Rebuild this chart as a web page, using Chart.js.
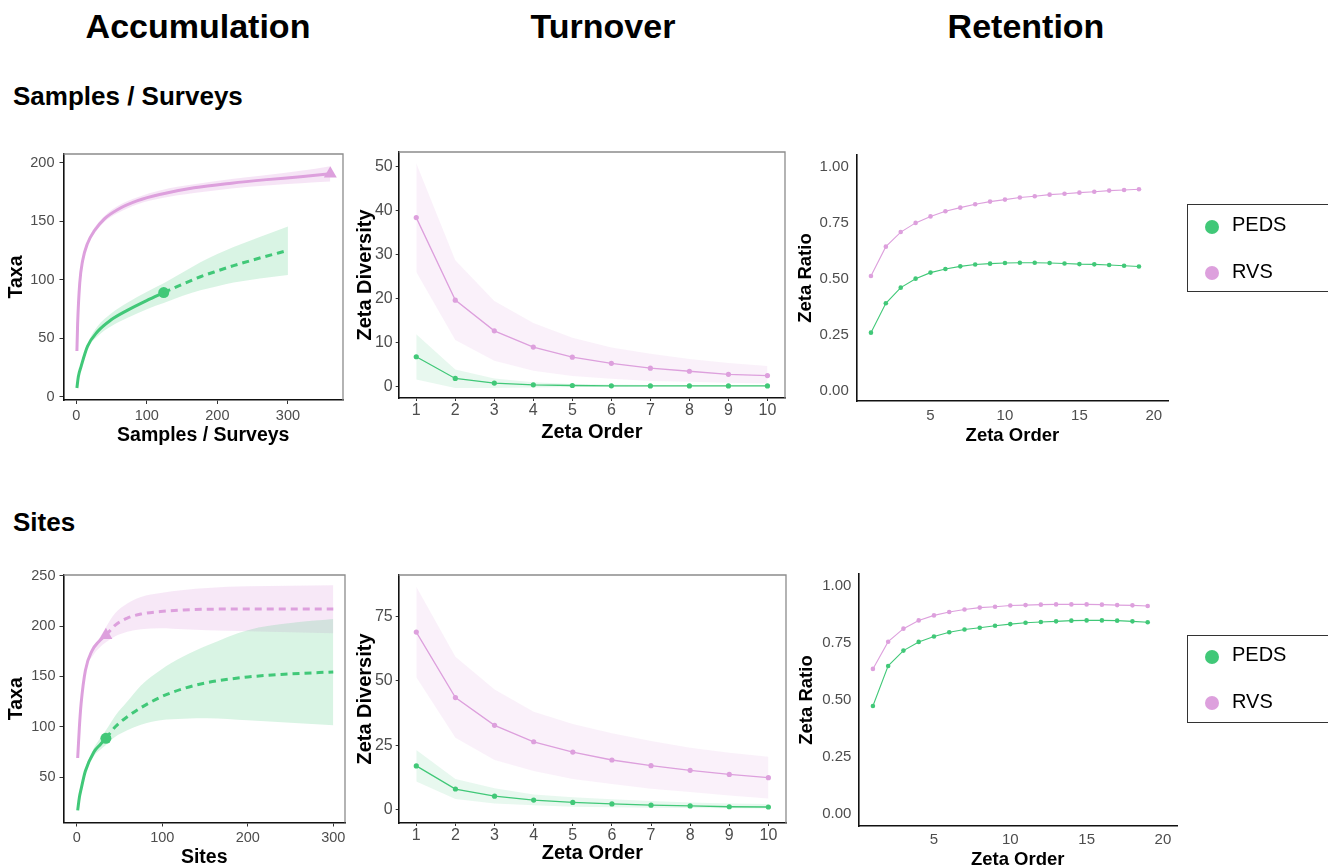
<!DOCTYPE html>
<html>
<head>
<meta charset="utf-8">
<script src="https://cdn.jsdelivr.net/npm/chart.js@4.4.1/dist/chart.umd.min.js"></script>
<style>
  body { margin: 0; background: #fff; width: 1328px; height: 868px; position: relative; overflow: hidden;
         font-family: "Liberation Sans", Arial, Helvetica, sans-serif; }
  .t { position: absolute; font-weight: bold; line-height: 1; white-space: nowrap; color: #000; }
  .c { transform: translateX(-50%); }
  canvas { position: absolute; }
  .lg { position: absolute; box-sizing: border-box; border: 1.5px solid #333; width: 170px; }
  .dot { position: absolute; width: 14px; height: 14px; border-radius: 50%; }
  .lt { position: absolute; font-size: 20px; line-height: 1; color: #000; }
</style>
</head>
<body>
<div class="t c" style="left:198px;top:9px;font-size:34px">Accumulation</div>
<div class="t c" style="left:603px;top:9px;font-size:34px">Turnover</div>
<div class="t c" style="left:1026px;top:9px;font-size:34px">Retention</div>
<div class="t" style="left:13px;top:83px;font-size:26px">Samples / Surveys</div>
<div class="t" style="left:13px;top:509px;font-size:26px">Sites</div>

<canvas id="accSamp"></canvas>
<canvas id="turnSamp"></canvas>
<canvas id="retSamp"></canvas>
<canvas id="accSite"></canvas>
<canvas id="turnSite"></canvas>
<canvas id="retSite"></canvas>

<div class="lg" style="left:1187px;top:204px;height:88px"></div>
<div class="dot" style="left:1205px;top:220px;background:#41c878"></div>
<div class="lt" style="left:1232px;top:214px">PEDS</div>
<div class="dot" style="left:1205px;top:266px;background:#dda0dd"></div>
<div class="lt" style="left:1232px;top:261px">RVS</div>

<div class="lg" style="left:1187px;top:635px;height:88px"></div>
<div class="dot" style="left:1205px;top:650px;background:#41c878"></div>
<div class="lt" style="left:1232px;top:644px">PEDS</div>
<div class="dot" style="left:1205px;top:696px;background:#dda0dd"></div>
<div class="lt" style="left:1232px;top:691px">RVS</div>

<script>
const GREEN = '#41c878';
const PINK = '#dda0dd';
const FONT = '"Liberation Sans", Arial, Helvetica, sans-serif';

// ---- Accumulation: samples / surveys ----
const sampPedsObsX = [1, 3, 7, 16, 30, 49, 73, 101, 124];
const sampPedsObsY = [7.5, 17, 26, 43, 55.5, 65.5, 74, 82.5, 89];
const sampPedsExtX = [124, 150, 176, 200, 223, 260, 300];
const sampPedsExtY = [89, 96, 102.5, 107.5, 112, 118.5, 125];
const sampPedsBandX = [1, 3, 7, 16, 30, 49, 73, 101, 124, 150, 176, 200, 223, 260, 300];
const sampPedsBandHi = [7.5, 17.5, 27, 45, 60, 71, 80.5, 90, 97, 106, 115, 122, 128, 136.5, 145.5];
const sampPedsBandLo = [7.5, 16.5, 25, 41, 51.5, 60, 67.5, 75, 80, 86, 91, 94.5, 97.5, 101, 104];
const sampRvsObsX = [1, 2, 5, 9, 16, 26, 40, 59, 87, 120, 167, 220, 270, 318, 360];
const sampRvsObsY = [39, 62, 97, 116, 131, 142, 152, 160, 167.5, 173, 178.5, 182.5, 185.5, 188, 190.5];
const sampRvsBandHi = [39, 63, 99, 118, 133, 144.5, 154.5, 163, 170.5, 176.5, 181.5, 186, 189.5, 193, 197];
const sampRvsBandLo = [39, 61, 95, 114, 129, 139.5, 149.5, 157, 164.5, 169.5, 174, 178, 180.5, 182.5, 184];

// ---- Accumulation: sites ----
const sitePedsObsX = [1, 3, 5, 10, 20, 27, 34];
const sitePedsObsY = [17, 30, 38, 56, 75, 82, 88.5];
const sitePedsExtX = [34, 45, 59, 75, 98, 125, 153, 200, 250, 300];
const sitePedsExtY = [88.5, 100, 110, 119, 129.5, 138, 144, 149.5, 152.5, 154.5];
const siteBandX = [1, 3, 5, 10, 20, 27, 34, 45, 59, 75, 98, 125, 153, 200, 250, 300];
const sitePedsBandHi = [17, 30.5, 39, 58, 79, 88, 96.5, 111, 125, 141, 156.5, 170, 181, 196, 203, 207];
const sitePedsBandLo = [17, 29.5, 37, 54, 71, 77, 82, 90, 96.5, 102, 106.5, 108, 108.5, 106.5, 104, 101.5];
const siteRvsObsX = [1, 3, 5, 10, 18, 25, 34];
const siteRvsObsY = [69, 100, 123, 156, 176, 184, 191];
const siteRvsExtX = [34, 45, 59, 75, 98, 125, 153, 200, 250, 300];
const siteRvsExtY = [191, 201, 208, 212, 214.5, 216, 216.8, 217, 217, 217];
const siteRvsBandHi = [69, 100.5, 124, 158, 180, 189, 199, 213, 222.5, 229, 233, 236, 238, 239.5, 240, 240.5];
const siteRvsBandLo = [69, 99.5, 122, 154, 172, 179, 184, 190, 194.5, 197, 198, 197, 196, 195, 194, 193];

// ---- Turnover ----
const zetaOrders = [1, 2, 3, 4, 5, 6, 7, 8, 9, 10];
const sampTurnPeds = [6.7, 1.75, 0.7, 0.3, 0.15, 0.08, 0.05, 0.05, 0.05, 0.05];
const sampTurnPedsHi = [11.8, 3.8, 1.75, 0.9, 0.5, 0.35, 0.25, 0.2, 0.2, 0.2];
const sampTurnPedsLo = [1.5, -0.45, -0.4, -0.3, -0.2, -0.15, -0.1, -0.1, -0.1, -0.1];
const sampTurnRvs = [38.4, 19.6, 12.6, 8.9, 6.6, 5.2, 4.1, 3.4, 2.7, 2.4];
const sampTurnRvsHi = [50.8, 28.7, 19.4, 14.4, 11.0, 8.8, 7.4, 6.2, 5.3, 4.6];
const sampTurnRvsLo = [26.0, 10.5, 5.8, 3.5, 2.3, 1.7, 1.2, 1.0, 0.8, 0.6];
const siteTurnPeds = [16.9, 7.9, 5.1, 3.6, 2.7, 2.1, 1.6, 1.3, 1.0, 0.9];
const siteTurnPedsHi = [23.1, 11.8, 8.2, 5.8, 4.7, 3.9, 3.2, 2.7, 2.3, 2.1];
const siteTurnPedsLo = [10.8, 4.0, 2.3, 1.6, 1.0, 0.8, 0.6, 0.5, 0.4, 0.3];
const siteTurnRvs = [69.0, 43.5, 32.7, 26.3, 22.3, 19.2, 17.0, 15.2, 13.6, 12.3];
const siteTurnRvsHi = [86.7, 59.4, 46.7, 38.0, 33.2, 29.6, 26.6, 24.0, 22.0, 20.5];
const siteTurnRvsLo = [51.4, 27.9, 19.2, 14.9, 11.8, 9.9, 8.0, 6.7, 5.4, 4.2];

// ---- Retention ----
const ratioOrders = [1, 2, 3, 4, 5, 6, 7, 8, 9, 10, 11, 12, 13, 14, 15, 16, 17, 18, 19];
const sampRatioPeds = [0.259, 0.390, 0.460, 0.500, 0.527, 0.543, 0.555, 0.563, 0.567, 0.570, 0.571, 0.571, 0.570, 0.568, 0.565, 0.564, 0.561, 0.558, 0.554];
const sampRatioRvs = [0.512, 0.643, 0.708, 0.749, 0.778, 0.801, 0.817, 0.832, 0.844, 0.853, 0.862, 0.868, 0.875, 0.879, 0.884, 0.888, 0.893, 0.896, 0.899];
const siteRatioPeds = [0.474, 0.649, 0.716, 0.754, 0.778, 0.796, 0.808, 0.816, 0.825, 0.832, 0.838, 0.841, 0.844, 0.847, 0.848, 0.848, 0.847, 0.844, 0.840];
const siteRatioRvs = [0.636, 0.755, 0.812, 0.848, 0.870, 0.885, 0.896, 0.904, 0.908, 0.913, 0.915, 0.917, 0.918, 0.918, 0.918, 0.917, 0.915, 0.914, 0.911];

// ---- Tick labels ----
const sampAccXTicks = [0, 100, 200, 300];
const sampAccYTicks = [0, 50, 100, 150, 200];
const siteAccXTicks = [0, 100, 200, 300];
const siteAccYTicks = [50, 100, 150, 200, 250];
const turnXTicks = [1, 2, 3, 4, 5, 6, 7, 8, 9, 10];
const sampTurnYTicks = [0, 10, 20, 30, 40, 50];
const siteTurnYTicks = [0, 25, 50, 75];
const ratioXTicks = [5, 10, 15, 20];
const ratioYTicks = [0, 0.25, 0.5, 0.75, 1];

const pts = (xs, ys) => xs.map((x, i) => ({ x: x, y: ys[i] }));

// grey top/right frame like the ggplot panel border
const boxPlugin = {
  id: 'box',
  afterDraw(chart) {
    const a = chart.chartArea, ctx = chart.ctx;
    ctx.save();
    ctx.strokeStyle = '#8c8c8c';
    ctx.lineWidth = 1.3;
    ctx.beginPath();
    ctx.moveTo(a.left, a.top);
    ctx.lineTo(a.right, a.top);
    ctx.lineTo(a.right, a.bottom);
    ctx.stroke();
    ctx.restore();
  }
};

function makeChart(id, p) {
  const padTop = 22, padRight = 22;
  const c = document.getElementById(id);
  c.width = Math.round(p.r - p.l + p.yw + padRight);
  c.height = Math.round(p.b - p.t + padTop + p.xh);
  c.style.left = (p.l - p.yw) + 'px';
  c.style.top = (p.t - padTop) + 'px';

  const axis = (min, max, ticks, title, fit, pad, fmt) => ({
    type: 'linear', min: min, max: max,
    afterBuildTicks: s => { s.ticks = ticks.map(v => ({ value: v })); },
    afterFit: fit,
    grid: { drawOnChartArea: false, drawTicks: p.tickLen > 0, tickLength: p.tickLen, color: '#333', lineWidth: 1 },
    border: { display: true, color: '#111', width: 1.6 },
    ticks: { color: '#4d4d4d', padding: pad, autoSkip: false, maxRotation: 0,
             font: { family: FONT, size: p.tickSize }, callback: fmt },
    title: { display: true, text: title, color: '#000', padding: { top: 0, bottom: 0 },
             font: { family: FONT, size: p.titleSize, weight: 'bold' } }
  });

  return new Chart(c, {
    type: 'line',
    data: { datasets: p.datasets },
    options: {
      responsive: false, animation: false, events: [],
      layout: { autoPadding: false, padding: { top: padTop, right: padRight, left: 0, bottom: 0 } },
      plugins: { legend: { display: false }, tooltip: { enabled: false },
                 filler: { drawTime: 'beforeDatasetsDraw' } },
      scales: {
        x: axis(p.xMin, p.xMax, p.xTicks, p.xTitle, s => { s.height = p.xh; }, p.xPad, p.fmtX),
        y: axis(p.yMin, p.yMax, p.yTicks, p.yTitle, s => { s.width = p.yw; }, p.yPad, p.fmtY)
      }
    },
    plugins: p.box ? [boxPlugin] : []
  });
}

const plain = v => String(v);
const two = v => v.toFixed(2);

function band(xs, hi, lo, color) {
  return [
    { data: pts(xs, hi), borderWidth: 0, pointRadius: 0, fill: '+1', backgroundColor: color, cubicInterpolationMode: 'monotone' },
    { data: pts(xs, lo), borderWidth: 0, pointRadius: 0, fill: false, cubicInterpolationMode: 'monotone' }
  ];
}
function curve(xs, ys, color, dashed) {
  return { data: pts(xs, ys), borderColor: color, borderWidth: 3, pointRadius: 0, fill: false,
           borderDash: dashed ? [7, 5] : [], cubicInterpolationMode: 'monotone' };
}
function marker(x, y, color, style, r) {
  return { data: [{ x: x, y: y }], showLine: false, pointStyle: style, pointRadius: r,
           pointBackgroundColor: color, pointBorderColor: color, pointBorderWidth: 0 };
}
function zetaLine(xs, ys, color, r, w) {
  return { data: pts(xs, ys), borderColor: color, borderWidth: w, pointRadius: r,
           pointBackgroundColor: color, pointBorderWidth: 0, fill: false, tension: 0 };
}
function straightBand(xs, hi, lo, color) {
  return [
    { data: pts(xs, hi), borderWidth: 0, pointRadius: 0, fill: '+1', backgroundColor: color, tension: 0 },
    { data: pts(xs, lo), borderWidth: 0, pointRadius: 0, fill: false, tension: 0 }
  ];
}

// Accumulation - samples / surveys
makeChart('accSamp', {
  l: 63, t: 154, r: 342, b: 400, yw: 58.5, xh: 47,
  xMin: -18, xMax: 378, yMin: -2.8, yMax: 207.4,
  xTicks: sampAccXTicks, yTicks: sampAccYTicks, fmtX: plain, fmtY: plain,
  xTitle: 'Samples / Surveys', yTitle: 'Taxa',
  tickSize: 14.5, titleSize: 19.5, tickLen: 4, xPad: 3, yPad: 5, box: true,
  datasets: [
    ...band(sampPedsBandX, sampPedsBandHi, sampPedsBandLo, 'rgba(65,200,120,0.2)'),
    ...band(sampRvsObsX, sampRvsBandHi, sampRvsBandLo, 'rgba(221,160,221,0.28)'),
    curve(sampPedsObsX, sampPedsObsY, GREEN, false),
    curve(sampPedsExtX, sampPedsExtY, GREEN, true),
    curve(sampRvsObsX, sampRvsObsY, PINK, false),
    marker(sampPedsObsX[sampPedsObsX.length - 1], sampPedsObsY[sampPedsObsY.length - 1], GREEN, 'circle', 5.5),
    marker(sampRvsObsX[sampRvsObsX.length - 1], sampRvsObsY[sampRvsObsY.length - 1], PINK, 'triangle', 7.5)
  ]
});

// Accumulation - sites
makeChart('accSite', {
  l: 63, t: 575, r: 344, b: 822, yw: 58.5, xh: 46.5,
  xMin: -15.6, xMax: 313.7, yMin: 4.9, yMax: 250.8,
  xTicks: siteAccXTicks, yTicks: siteAccYTicks, fmtX: plain, fmtY: plain,
  xTitle: 'Sites', yTitle: 'Taxa',
  tickSize: 14.5, titleSize: 19.5, tickLen: 4, xPad: 3, yPad: 4, box: true,
  datasets: [
    ...band(siteBandX, sitePedsBandHi, sitePedsBandLo, 'rgba(65,200,120,0.2)'),
    ...band(siteBandX, siteRvsBandHi, siteRvsBandLo, 'rgba(221,160,221,0.24)'),
    curve(sitePedsObsX, sitePedsObsY, GREEN, false),
    curve(sitePedsExtX, sitePedsExtY, GREEN, true),
    curve(siteRvsObsX, siteRvsObsY, PINK, false),
    curve(siteRvsExtX, siteRvsExtY, PINK, true),
    marker(sitePedsObsX[sitePedsObsX.length - 1], sitePedsObsY[sitePedsObsY.length - 1], GREEN, 'circle', 5.5),
    marker(siteRvsObsX[siteRvsObsX.length - 1], siteRvsObsY[siteRvsObsY.length - 1], PINK, 'triangle', 7.5)
  ]
});

// Turnover - samples / surveys
makeChart('turnSamp', {
  l: 399, t: 152, r: 785, b: 398, yw: 45.7, xh: 46,
  xMin: 0.55, xMax: 10.45, yMin: -2.7, yMax: 53.35,
  xTicks: turnXTicks, yTicks: sampTurnYTicks, fmtX: plain, fmtY: plain,
  xTitle: 'Zeta Order', yTitle: 'Zeta Diversity',
  tickSize: 16, titleSize: 20, tickLen: 3, xPad: 0, yPad: 3, box: true,
  datasets: [
    ...straightBand(zetaOrders, sampTurnPedsHi, sampTurnPedsLo, 'rgba(65,200,120,0.12)'),
    ...straightBand(zetaOrders, sampTurnRvsHi, sampTurnRvsLo, 'rgba(221,160,221,0.15)'),
    zetaLine(zetaOrders, sampTurnPeds, GREEN, 2.6, 1.3),
    zetaLine(zetaOrders, sampTurnRvs, PINK, 2.6, 1.3)
  ]
});

// Turnover - sites
makeChart('turnSite', {
  l: 399, t: 575, r: 786, b: 823, yw: 45.7, xh: 42,
  xMin: 0.55, xMax: 10.45, yMin: -5.33, yMax: 91.24,
  xTicks: turnXTicks, yTicks: siteTurnYTicks, fmtX: plain, fmtY: plain,
  xTitle: 'Zeta Order', yTitle: 'Zeta Diversity',
  tickSize: 16, titleSize: 20, tickLen: 3, xPad: 0, yPad: 3, box: true,
  datasets: [
    ...straightBand(zetaOrders, siteTurnPedsHi, siteTurnPedsLo, 'rgba(65,200,120,0.12)'),
    ...straightBand(zetaOrders, siteTurnRvsHi, siteTurnRvsLo, 'rgba(221,160,221,0.15)'),
    zetaLine(zetaOrders, siteTurnPeds, GREEN, 2.6, 1.3),
    zetaLine(zetaOrders, siteTurnRvs, PINK, 2.6, 1.3)
  ]
});

// Retention - samples / surveys
makeChart('retSamp', {
  l: 857, t: 155, r: 1168, b: 401, yw: 61.8, xh: 46,
  xMin: 0.05, xMax: 20.95, yMin: -0.046, yMax: 1.052,
  xTicks: ratioXTicks, yTicks: ratioYTicks, fmtX: plain, fmtY: two,
  xTitle: 'Zeta Order', yTitle: 'Zeta Ratio',
  tickSize: 15, titleSize: 18.5, tickLen: 0, xPad: 6, yPad: 8, box: false,
  datasets: [
    zetaLine(ratioOrders, sampRatioPeds, GREEN, 2.3, 1.1),
    zetaLine(ratioOrders, sampRatioRvs, PINK, 2.3, 1.1)
  ]
});

// Retention - sites
makeChart('retSite', {
  l: 858, t: 574, r: 1177, b: 826, yw: 62.4, xh: 45,
  xMin: 0.05, xMax: 20.92, yMin: -0.051, yMax: 1.051,
  xTicks: ratioXTicks, yTicks: ratioYTicks, fmtX: plain, fmtY: two,
  xTitle: 'Zeta Order', yTitle: 'Zeta Ratio',
  tickSize: 15, titleSize: 18.5, tickLen: 0, xPad: 5, yPad: 7, box: false,
  datasets: [
    zetaLine(ratioOrders, siteRatioPeds, GREEN, 2.3, 1.1),
    zetaLine(ratioOrders, siteRatioRvs, PINK, 2.3, 1.1)
  ]
});
</script>
</body>
</html>
